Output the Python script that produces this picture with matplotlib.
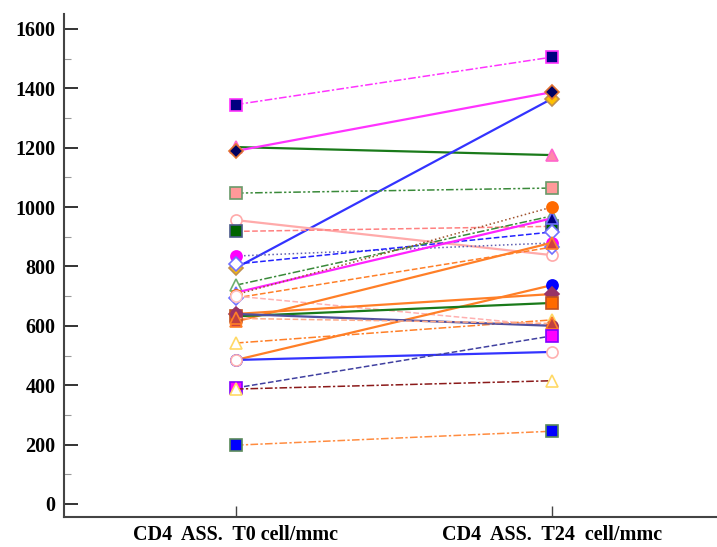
import matplotlib
matplotlib.use('Agg')
import matplotlib.pyplot as plt
from matplotlib.ticker import MultipleLocator

plt.rcParams['font.family'] = 'Liberation Serif'

# CD4 valori per paziente (T0 -> T24), cell/mmc
time_labels = ["CD4  ASS.  T0 cell/mmc", "CD4  ASS.  T24  cell/mmc"]
cd4_t0 = [1202, 795, 1345, 1189, 1047, 956, 918, 835, 808, 737, 712, 705, 694,
          700, 542, 615, 485, 640, 632, 640, 625, 485, 391, 387, 198]
cd4_t24 = [1175, 1365, 1505, 1387, 1064, 838, 935, 879, 916, 970, 962, 1000, 865,
           600, 620, 880, 737, 707, 677, 600, 608, 512, 566, 415, 245]

# stile di ogni paziente
dashdot = (0, (5, 1.5, 1.5, 1.5))
dashdotdot = (0, (5, 1.5, 1.5, 1.5, 1.5, 1.5))
line_colors = ['#1A7A1A', '#3333FF', '#FF33FF', '#FF33FF', '#3A8A3A', '#FFAAAA',
               '#FF8080', '#6060B0', '#2222FF', '#3A8A3A', '#FF22FF', '#A0522D',
               '#FF7F27', '#FFB0B0', '#FF7F27', '#FF7F27', '#FF7F27', '#FF7F27',
               '#1A7A1A', '#5050A0', '#FFAA88', '#3333FF', '#4040A0', '#8B1A1A',
               '#FF8C40']
line_styles = ['-', '-', dashdot, '-', dashdotdot, '-', '--', ':', '--', dashdot,
               '-', ':', '--', '--', dashdot, '-', '-', '-', '-', '-', '--', '-',
               '--', dashdot, dashdot]
markers = ['^', 'D', 's', 'D', 's', 'o', 's', 'o', 'D', '^', '^', 'o', 'D',
           'o', '^', '^', 'o', 'D', 's', 'o', '^', 'o', 's', '^', 's']
face_colors = ['#FF88AA', '#FFC000', '#000080', '#000060', '#FF9999', 'white',
               '#006400', '#FF00FF', 'white', 'white', '#000080', '#FF6A00',
               'white', 'white', 'white', '#D04040', '#0000FF', '#993366',
               '#FF6A00', '#993366', '#C04040', 'white', '#FF00FF', 'white',
               '#0000FF']
edge_colors = ['#FF66CC', '#C09050', '#FF33FF', '#E07030', '#6A9A6A', '#FFAAAA',
               '#4A5A8A', '#FF00FF', '#7070FF', '#6FAF6F', '#7070FF', '#FF6A00',
               '#7070FF', '#FFC0C0', '#FFD966', '#FF7F27', '#0000FF', '#993366',
               '#C05020', '#993366', '#FF7F27', '#FFB0B0', '#8000FF', '#FFD966',
               '#5A8A5A']

fig = plt.figure(figsize=(7.17, 5.47), dpi=100)
ax = fig.add_axes([0.0893, 0.0548, 0.9107, 0.9195])

x = [0, 1]
for i in range(len(cd4_t0)):
    lw = 1.6 if line_styles[i] == '-' else 1.1
    ax.plot(x, [cd4_t0[i], cd4_t24[i]], color=line_colors[i],
            linestyle=line_styles[i], linewidth=lw, marker=markers[i],
            markersize=8 if markers[i] != 'D' else 7.5,
            markerfacecolor=face_colors[i], markeredgecolor=edge_colors[i],
            markeredgewidth=1.2)

ax.set_xlim(-0.544, 1.522)
ax.set_ylim(-44, 1650)
ax.set_xticks(x)
ax.set_xticklabels(time_labels, fontsize=14.5, fontweight='bold')
ax.yaxis.set_major_locator(MultipleLocator(200))
ax.yaxis.set_minor_locator(MultipleLocator(100))
for lab in ax.get_yticklabels():
    lab.set_fontweight('bold')
ax.tick_params(axis='y', which='major', direction='in', length=10, width=1.4,
               labelsize=14.5, colors='#333333', labelcolor='black', pad=6)
ax.tick_params(axis='y', which='minor', direction='in', length=5, width=0.8,
               colors='#999999')
ax.tick_params(axis='x', direction='in', length=8, width=1.0, labelsize=14.5,
               colors='#444444', labelcolor='black', pad=6)

ax.spines['top'].set_visible(False)
ax.spines['right'].set_visible(False)
for side in ['left', 'bottom']:
    ax.spines[side].set_linewidth(1.5)
    ax.spines[side].set_color('#444444')

fig.savefig('out.png', dpi=100)
